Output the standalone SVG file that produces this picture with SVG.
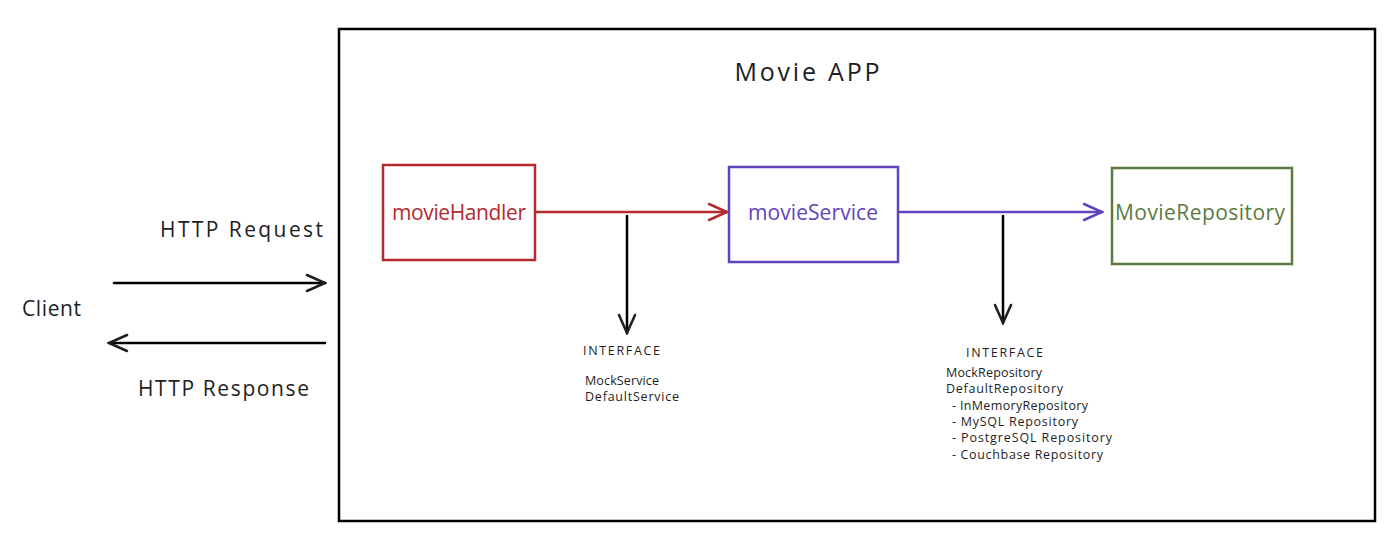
<svg xmlns="http://www.w3.org/2000/svg" width="1400" height="547" viewBox="0 0 1400 547">
<defs>
<style>
text{font-family:"Open Sans","Liberation Sans",sans-serif;fill:#1e1e1e}
.lbl{font-size:21px}
.sm{font-size:12.5px}
.node{fill:#fff;stroke-width:2.5}
.conn{fill:none;stroke-width:2.5;stroke-linecap:round}
</style>
<marker id="ahK" viewBox="0 0 22 22" refX="20" refY="11" markerWidth="22" markerHeight="22" markerUnits="userSpaceOnUse" orient="auto"><path d="M2,3 L20,11 L2,19" fill="none" stroke="#1e1e1e" stroke-width="2.5" stroke-linecap="round"/></marker>
<marker id="ahR" viewBox="0 0 22 22" refX="20" refY="11" markerWidth="22" markerHeight="22" markerUnits="userSpaceOnUse" orient="auto"><path d="M2,3 L20,11 L2,19" fill="none" stroke="#b52a2e" stroke-width="2.5" stroke-linecap="round"/></marker>
<marker id="ahP" viewBox="0 0 22 22" refX="20" refY="11" markerWidth="22" markerHeight="22" markerUnits="userSpaceOnUse" orient="auto"><path d="M2,3 L20,11 L2,19" fill="none" stroke="#5f44bd" stroke-width="2.5" stroke-linecap="round"/></marker>
</defs>
<rect width="1400" height="547" fill="#fff"/>
<g id="frame">
<rect x="339" y="29" width="1036" height="492" fill="none" stroke="#000" stroke-width="2.5"/>
<text x="807" y="81" font-size="25" text-anchor="middle" textLength="145">Movie APP</text>
</g>
<g id="connectors">
<path class="conn" d="M536,212 L727,212" stroke="#b52a2e" marker-end="url(#ahR)"/>
<path class="conn" d="M899,212 L1102,212" stroke="#5f44bd" marker-end="url(#ahP)"/>
<path class="conn" d="M627,216 L627,333" stroke="#000" marker-end="url(#ahK)"/>
<path class="conn" d="M1003,216 L1003,323" stroke="#000" marker-end="url(#ahK)"/>
<path class="conn" d="M114,283 L325,283" stroke="#000" marker-end="url(#ahK)"/>
<path class="conn" d="M325,343 L109,343" stroke="#000" marker-end="url(#ahK)"/>
</g>
<g id="movieHandler">
<rect class="node" x="383" y="165" width="152" height="95" stroke="#b52a2e"/>
<text class="lbl" x="459" y="220" text-anchor="middle" style="fill:#b52a2e" textLength="134">movieHandler</text>
</g>
<g id="movieService">
<rect class="node" x="729" y="167" width="169" height="95" stroke="#5f44bd"/>
<text class="lbl" x="813" y="220" text-anchor="middle" style="fill:#5f44bd" textLength="130">movieService</text>
</g>
<g id="MovieRepository">
<rect class="node" x="1112" y="168" width="180" height="96" stroke="#5a7a3f"/>
<text class="lbl" x="1200" y="220" text-anchor="middle" style="fill:#5a7a3f" textLength="170">MovieRepository</text>
</g>
<g id="client">
<text class="lbl" x="22" y="316" textLength="59">Client</text>
</g>
<g id="labels">
<text class="lbl" x="160" y="237" textLength="163">HTTP Request</text>
<text class="lbl" x="138" y="396" textLength="171">HTTP Response</text>
</g>
<g id="serviceInterface">
<text class="sm" x="583" y="355" textLength="77">INTERFACE</text>
<text class="sm" x="585" y="385" textLength="74">MockService</text>
<text class="sm" x="585" y="401" textLength="94">DefaultService</text>
</g>
<g id="repoInterface">
<text class="sm" x="966" y="357" textLength="77">INTERFACE</text>
<text class="sm" x="946" y="377" textLength="96">MockRepository</text>
<text class="sm" x="946" y="393" textLength="117">DefaultRepository</text>
<text class="sm" x="952" y="410" textLength="136">- InMemoryRepository</text>
<text class="sm" x="952" y="426" textLength="126">- MySQL Repository</text>
<text class="sm" x="952" y="442" textLength="160">- PostgreSQL Repository</text>
<text class="sm" x="952" y="459" textLength="151">- Couchbase Repository</text>
</g>
</svg>
